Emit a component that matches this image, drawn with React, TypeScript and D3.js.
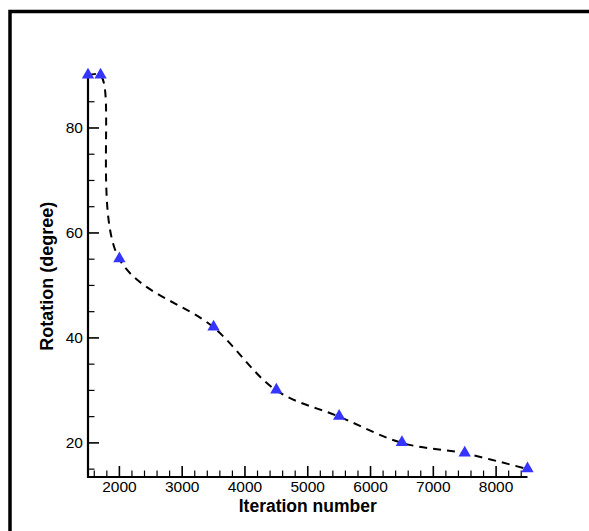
import * as d3 from "d3";

const iterations = [1500, 1700, 2000, 3500, 4500, 5500, 6500, 7500, 8500];
const rotation = [90, 90, 55, 42, 30, 25, 20, 18, 15];
const xTickValues = [2000, 3000, 4000, 5000, 6000, 7000, 8000];
const yTickValues = [20, 40, 60, 80];

const WIDTH = 589;
const HEIGHT = 531;
const FONT = "'Liberation Sans', Arial, Helvetica, sans-serif";
const MARKER = "#3535ff";

const left = 88;
const right = 527.5;
const top = 75.5;
const bottom = 477;

export default function App() {
  const x = d3.scaleLinear().domain([1500, 8500]).range([left, right]);
  const y = d3.scaleLinear().domain([13.5, 90]).range([bottom, top]);

  // minor ticks every 200 on x, every 5 on y
  const xMinor = d3.range(1600, 8500, 200).filter((v) => v % 1000 !== 0);
  const yMinor = d3.range(15, 90, 5).filter((v) => v % 20 !== 0);

  const pts = iterations.map((it, i) => [it, rotation[i]] as [number, number]);
  const line = d3
    .line<[number, number]>()
    .x((d) => x(d[0]))
    .y((d) => y(d[1]))
    .curve(d3.curveCatmullRom.alpha(0.5));

  const tri = d3.symbol().type(d3.symbolTriangle).size(66)();

  return (
    <svg
      width={WIDTH}
      height={HEIGHT}
      style={{ position: "absolute", left: 0, top: 0, background: "#fff" }}
      fontFamily={FONT}
    >
      {/* outer frame, only top and left visible */}
      <path d="M10,560V11.5H620" fill="none" stroke="#000" strokeWidth={3.5} />

      {/* curve */}
      <path
        d={line(pts) ?? ""}
        fill="none"
        stroke="#000"
        strokeWidth={2}
        strokeDasharray="8,6"
      />

      {/* axes */}
      <g stroke="#000">
        <line x1={left} x2={left} y1={top} y2={bottom + 1} strokeWidth={2.2} />
        <line x1={left - 1} x2={right} y1={bottom} y2={bottom} strokeWidth={2.2} />
        {xTickValues.map((v) => (
          <line key={"xt" + v} x1={x(v)} x2={x(v)} y1={bottom} y2={bottom - 11} strokeWidth={1.6} />
        ))}
        {xMinor.map((v) => (
          <line key={"xm" + v} x1={x(v)} x2={x(v)} y1={bottom} y2={bottom - 6.5} strokeWidth={1.2} />
        ))}
        {yTickValues.map((v) => (
          <line key={"yt" + v} x1={left} x2={left + 11} y1={y(v)} y2={y(v)} strokeWidth={1.6} />
        ))}
        {yMinor.map((v) => (
          <line key={"ym" + v} x1={left} x2={left + 6.5} y1={y(v)} y2={y(v)} strokeWidth={1.2} />
        ))}
      </g>

      {/* tick labels */}
      <g fontSize={15.5} fill="#000">
        {xTickValues.map((v) => (
          <text key={"xl" + v} x={x(v)} y={492} textAnchor="middle">
            {v}
          </text>
        ))}
        {yTickValues.map((v) => (
          <text key={"yl" + v} x={83} y={y(v)} dy="0.35em" textAnchor="end">
            {v}
          </text>
        ))}
      </g>

      {/* axis titles */}
      <text
        x={(left + right) / 2}
        y={511.5}
        textAnchor="middle"
        fontSize={17.5}
        fontWeight="bold"
      >
        Iteration number
      </text>
      <text
        transform={`translate(53,${(top + bottom) / 2}) rotate(-90)`}
        textAnchor="middle"
        fontSize={18}
        fontWeight="bold"
      >
        Rotation (degree)
      </text>

      {/* markers */}
      {pts.map((d, i) => (
        <path
          key={"m" + i}
          d={tri ?? ""}
          transform={`translate(${x(d[0])},${y(d[1]) - 0.5})`}
          fill={MARKER}
        />
      ))}
    </svg>
  );
}
